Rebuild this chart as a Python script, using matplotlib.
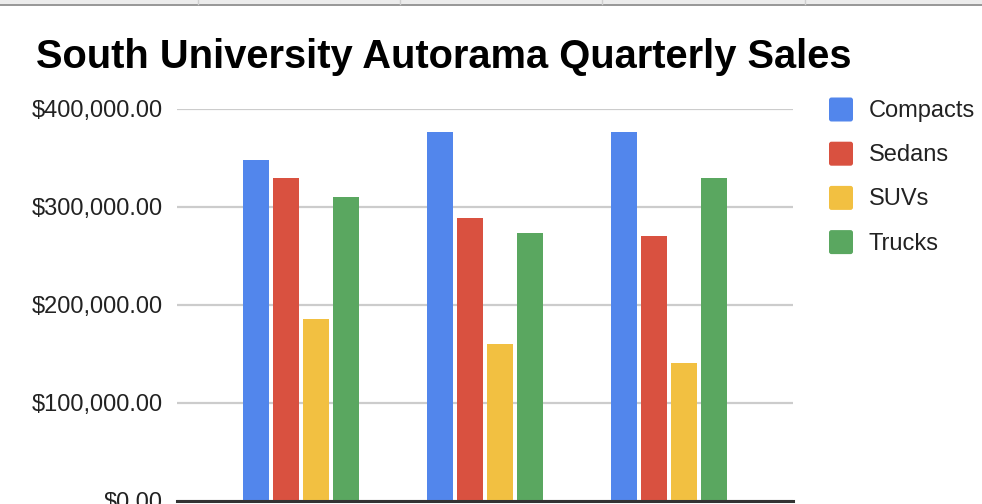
import matplotlib
matplotlib.use("Agg")
import numpy as np
import matplotlib.pyplot as plt
from matplotlib.patches import FancyBboxPatch, Rectangle
from matplotlib.ticker import FuncFormatter

# %% Data
categories = ["Q1", "Q2", "Q3"]
series = ["Compacts", "Sedans", "SUVs", "Trucks"]
compacts = [348000, 377000, 377000]
sedans = [330000, 289000, 270000]
suvs = [185000, 160000, 140000]
trucks = [310000, 273000, 330000]
yticks = [0, 100000, 200000, 300000, 400000]

values = [compacts, sedans, suvs, trucks]
colors = ["#5286EC", "#D95140", "#F2C041", "#5AA760"]

plt.rcParams["font.family"] = ["Liberation Sans", "DejaVu Sans"]

# %% Figure
W, H = 982, 504
fig = plt.figure(figsize=(W / 100, H / 100), dpi=100)
fig.patch.set_facecolor("white")

# axes placed in pixels: left 177, right 793, top(400k) 109, zero 500.5
ax = fig.add_axes([177 / W, (H - 500.5) / H, 616 / W, 391.5 / H])
x = np.arange(len(categories))
bw = 0.1417
step = 0.1635
for k, (vals, c) in enumerate(zip(values, colors)):
    ax.bar(x + (k - 1.5) * step, vals, width=bw, color=c, zorder=3, linewidth=0)

ax.set_xlim(-0.678, 2.678)
ax.set_ylim(0, 400000)
ax.set_yticks(yticks)
ax.yaxis.set_major_formatter(FuncFormatter(lambda v, p: f"${v:,.2f}"))
ax.set_xticks([])
ax.tick_params(axis="y", length=0, pad=10, labelsize=17, labelcolor="#222222")
ax.grid(axis="y", color="#cccccc", linewidth=1.6, zorder=0)
for s in ["top", "right", "left"]:
    ax.spines[s].set_visible(False)
ax.spines["bottom"].set_color("#333333")
ax.spines["bottom"].set_linewidth(2.2)
ax.spines["bottom"].set_zorder(4)
for lbl in ax.get_yticklabels():
    lbl.set_clip_on(False)

# %% Overlay in pixel units (title, legend, sheet strip)
ov = fig.add_axes([0, 0, 1, 1], zorder=-1)
ov.set_xlim(0, W)
ov.set_ylim(H, 0)
ov.axis("off")

ov.add_patch(Rectangle((0, 0), W, 4, color="#ececec", lw=0))
for xv in [198.5, 400.5, 602.5, 805.5]:
    ov.plot([xv, xv], [0, 4], color="#cfcfcf", lw=1)
ov.add_patch(Rectangle((0, 4), W, 2.2, color="#999999", lw=0))

ov2 = fig.add_axes([0, 0, 1, 1], zorder=5)
ov2.set_xlim(0, W)
ov2.set_ylim(H, 0)
ov2.axis("off")
ov2.patch.set_alpha(0)

ov2.text(36, 68.5, "South University Autorama Quarterly Sales", fontsize=28.7,
         fontweight="bold", color="black", ha="left", va="baseline")

for i, (name, c) in enumerate(zip(series, colors)):
    yc = 109.5 + i * 44.2
    ov2.add_patch(FancyBboxPatch((829, yc - 12), 24, 24,
                                 boxstyle="round,pad=0,rounding_size=2.5",
                                 fc=c, ec="none"))
    ov2.text(869, yc + 1.5, name, fontsize=17, color="#222222", ha="left", va="center")

fig.savefig("out.png", dpi=100)
